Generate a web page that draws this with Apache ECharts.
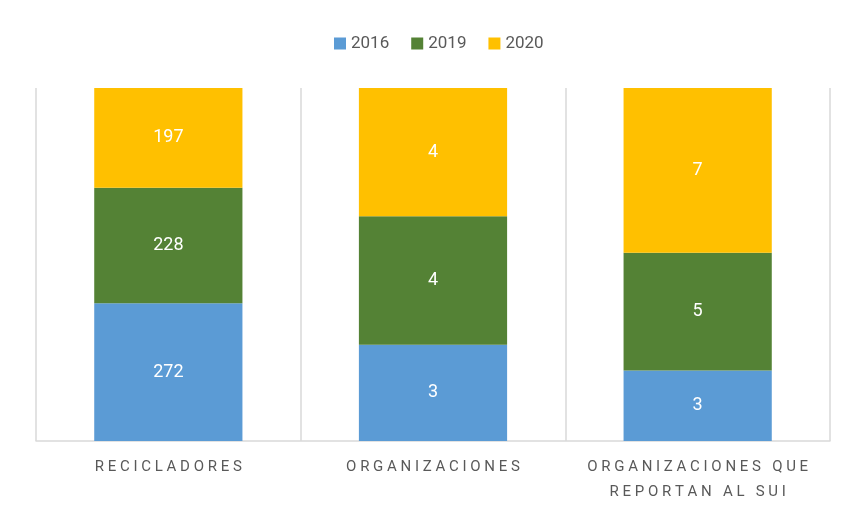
<!DOCTYPE html>
<html>
<head>
<meta charset="utf-8">
<script src="https://cdn.jsdelivr.net/npm/echarts@6/dist/echarts.min.js"></script>
<style>
  html, body { margin: 0; padding: 0; background: #fff; }
  #chart { width: 843px; height: 510px; }
</style>
</head>
<body>
<div id="chart"></div>
<script>
// categorías y valores por año
const categories = ['RECICLADORES', 'ORGANIZACIONES', 'ORGANIZACIONES QUE\nREPORTAN AL SUI']
const years = ['2016', '2019', '2020']
const values2016 = [272, 3, 3]
const values2019 = [228, 4, 5]
const values2020 = [197, 4, 7]
const colors = ['#5B9BD5', '#548235', '#FFC000']

const raw = [values2016, values2019, values2020]
const totals = categories.map((c, i) => raw.reduce((s, arr) => s + arr[i], 0))

// espaciado entre letras como en el original
const spaced = (txt) => txt.split('\n').map(line =>
  line.split(' ').map(w => w.split('').join(' ')).join('   ')
).join('\n')

const chart = echarts.init(document.getElementById('chart'))

const series = years.map((y, k) => ({
  name: y,
  type: 'bar',
  stack: 'total',
  barWidth: '56%',
  data: raw[k].map((v, i) => v / totals[i] * 100),
  itemStyle: { color: colors[k] },
  label: {
    show: true,
    color: '#fff',
    fontSize: 18,
    fontFamily: 'Roboto',
    formatter: p => raw[k][p.dataIndex]
  },
  emphasis: { disabled: true }
}))

chart.setOption({
  animation: false,
  textStyle: { fontFamily: 'Roboto' },
  legend: {
    data: years,
    top: 30,
    left: 329,
    itemWidth: 12,
    itemHeight: 12,
    itemGap: 22,
    icon: 'rect',
    textStyle: { color: '#595959', fontSize: 17 }
  },
  grid: { left: 36, right: 13, top: 88, bottom: 69 },
  xAxis: {
    type: 'category',
    data: categories,
    axisLine: { lineStyle: { color: '#d9d9d9', width: 1.5 } },
    axisTick: { show: false },
    splitLine: { show: true, interval: 0, lineStyle: { color: '#d9d9d9', width: 1.5 } },
    axisLabel: {
      interval: 0,
      margin: 14,
      color: '#595959',
      fontSize: 15,
      lineHeight: 25,
      formatter: v => spaced(v)
    }
  },
  yAxis: {
    type: 'value',
    min: 0,
    max: 100,
    show: false
  },
  series: series
})
</script>
</body>
</html>
